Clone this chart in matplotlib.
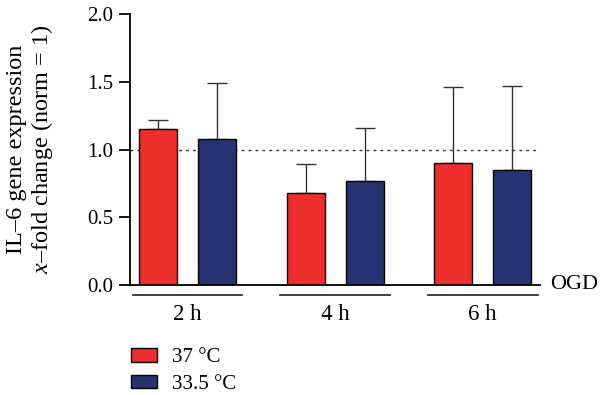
import matplotlib
matplotlib.use("Agg")
import matplotlib.pyplot as plt
from matplotlib.patches import Patch
import numpy as np

# IL-6 expression, x-fold change (norm = 1)
groups = ["2 h", "4 h", "6 h"]
temps = ["37 °C", "33.5 °C"]
mean_37 = [1.15, 0.68, 0.90]
err_37 = [0.07, 0.215, 0.56]
mean_335 = [1.08, 0.77, 0.85]
err_335 = [0.41, 0.39, 0.62]

red = "#ee2d2d"
blue = "#253371"

plt.rcParams['font.family'] = ['Liberation Serif', 'DejaVu Serif']
plt.rcParams['mathtext.fontset'] = 'custom'
plt.rcParams['mathtext.it'] = 'Liberation Serif:italic'
plt.rcParams['mathtext.rm'] = 'Liberation Serif'

fig = plt.figure(figsize=(6, 3.95), dpi=100)
ax = fig.add_axes([0.2167, 0.2785, 0.6833, 0.686])

centers = np.arange(len(groups)) * 2.5
w = 0.64
x37 = centers
x335 = centers + 1

ax.bar(x37, mean_37, w, color=red, edgecolor="black", linewidth=1, zorder=2)
ax.bar(x335, mean_335, w, color=blue, edgecolor="black", linewidth=1, zorder=2)
ekw = dict(fmt="none", ecolor="#333333", elinewidth=1, capsize=7, capthick=1, zorder=1)
ax.errorbar(x37, mean_37, yerr=[np.zeros(3), err_37], **ekw)
ax.errorbar(x335, mean_335, yerr=[np.zeros(3), err_335], **ekw)

ax.axhline(1.0, color="#333333", linestyle=(0, (2, 3)), linewidth=1, zorder=0)

ax.set_xlim(-0.475, 6.47)
ax.set_ylim(0, 2)
ax.set_yticks([0, 0.5, 1.0, 1.5, 2.0])
ax.set_yticklabels(["0.0", "0.5", "1.0", "1.5", "2.0"])
ax.set_xticks([])
for s in ["top", "right"]:
    ax.spines[s].set_visible(False)
ax.spines["left"].set_linewidth(1.3)
ax.spines["bottom"].set_linewidth(1.3)
ax.tick_params(axis="y", length=8, width=1.3, labelsize=15, pad=4)

ax.set_ylabel("IL–6 gene expression\n$x$–fold change (norm = 1)", fontsize=17.5,
              linespacing=1.1)
ax.yaxis.set_label_coords(-0.183, 0.5)

# group lines and labels
for c, g in zip(centers, groups):
    mid = c + 0.5
    ax.plot([mid - 0.93, mid + 0.93], [-0.075, -0.075], color="#333333",
            linewidth=1.3, clip_on=False)
    ax.text(mid, -0.22, g, ha="center", va="center", fontsize=16.5)

ax.text(6.64, 0, "OGD", ha="left", va="center", fontsize=16)

handles = [Patch(facecolor=red, edgecolor="black", linewidth=1),
           Patch(facecolor=blue, edgecolor="black", linewidth=1)]
fig.legend(handles, temps, loc="upper left", bbox_to_anchor=(0.218, 0.118),
           frameon=False, fontsize=15, handlelength=1.25, handleheight=0.6,
           handletextpad=0.75, labelspacing=0.35, borderaxespad=0, borderpad=0)

fig.savefig("out.png", dpi=100)
